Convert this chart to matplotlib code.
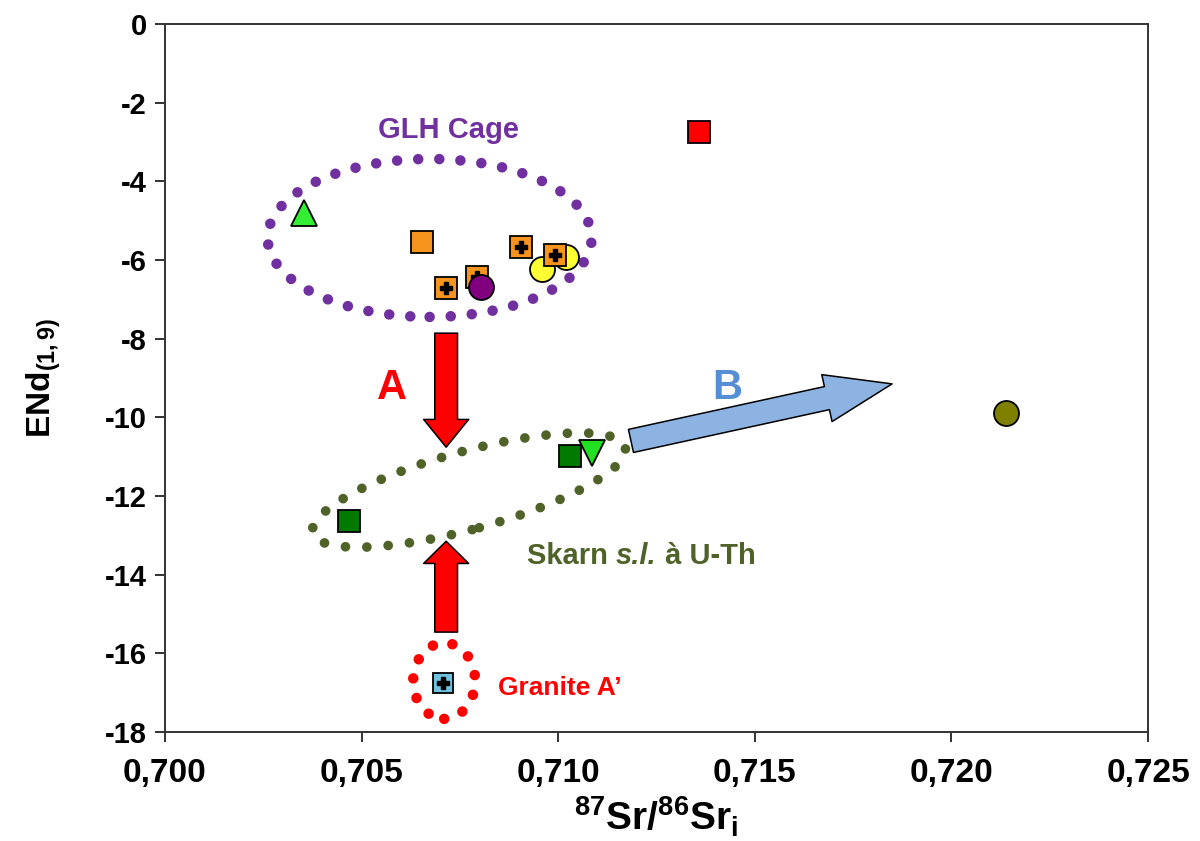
import matplotlib
matplotlib.use("Agg")
from matplotlib import pyplot as plt
from matplotlib.patches import Ellipse
import matplotlib.transforms as mtransforms

plt.rcParams['mathtext.default'] = 'regular'

# --- donnees ---
# carres orange (sans croix)
sq_orange_x = [0.70654]
sq_orange_y = [-5.54]
# carres orange avec croix
sqp_orange_x = [0.70905, 0.70992, 0.70793, 0.70715]
sqp_orange_y = [-5.67, -5.87, -6.43, -6.71]
# cercles jaunes
circ_yellow_x = [0.71020, 0.70959]
circ_yellow_y = [-5.92, -6.23]
# cercle violet
circ_purple_x = [0.70804]
circ_purple_y = [-6.69]
# triangle vert clair (haut)
tri_up_x = [0.70354]
tri_up_y = [-4.81]
# carre rouge
sq_red_x = [0.71358]
sq_red_y = [-2.75]
# carres vert fonce
sq_dkgreen_x = [0.71030, 0.70468]
sq_dkgreen_y = [-10.98, -12.64]
# triangle vert (bas)
tri_down_x = [0.71086]
tri_down_y = [-10.91]
# granite A' (carre bleu avec croix)
sqp_cyan_x = [0.70707]
sqp_cyan_y = [-16.76]
# cercle olive
circ_olive_x = [0.72139]
circ_olive_y = [-9.89]

xticks = [0.700, 0.705, 0.710, 0.715, 0.720, 0.725]
xtick_labels = ["0,700", "0,705", "0,710", "0,715", "0,720", "0,725"]
yticks = [0, -2, -4, -6, -8, -10, -12, -14, -16, -18]
ytick_labels = ["0", "-2", "-4", "-6", "-8", "-10", "-12", "-14", "-16", "-18"]

fig = plt.figure(figsize=(12, 8.41), dpi=100)
ax = fig.add_axes([0.1375, 0.1296, 0.8192, 0.8419])
ax.set_xlim(0.700, 0.725)
ax.set_ylim(-18, 0)

for s in ax.spines.values():
    s.set_linewidth(1.4)
    s.set_color("#333333")

ax.set_xticks(xticks)
ax.set_xticklabels(xtick_labels, family="Liberation Sans", weight="bold", fontsize=24)
ax.set_yticks(yticks)
ax.set_yticklabels(ytick_labels, family="Liberation Sans", weight="bold", fontsize=21)
ax.tick_params(length=7, width=1.4, color="#333333", pad=6)
ax.tick_params(axis="x", pad=12)

ax.set_xlabel("$^{87}$Sr/$^{86}$Sr$_{i}$", family="Liberation Sans",
              weight="bold", fontsize=28, labelpad=4)
ax.set_ylabel("ENd$_{(1,9)}$", family="Liberation Sans", weight="bold", fontsize=24, labelpad=30)


def anneau(cx, cy, w, h, angle, color, lw, gap):
    # ellipse pointillee, taille en pouces autour d'un centre en coordonnees donnees
    tr = fig.dpi_scale_trans + mtransforms.ScaledTranslation(cx, cy, ax.transData)
    e = Ellipse((0, 0), w, h, angle=angle, transform=tr, fill=False, ec=color,
                lw=lw, linestyle=(0, (0.001, gap)), capstyle="round", zorder=1)
    ax.add_patch(e)


anneau(0.70673, -5.44, 3.24, 1.58, 0, "#7030A0", 7.6, 2.0)
anneau(0.70773, -11.85, 3.24, 0.78, 15.4, "#4F6228", 7.0, 2.2)
anneau(0.70710, -16.70, 0.62, 0.76, 0, "#FF0000", 7.6, 1.9)


def fleche(x0, y0, x1, y1, fc, hl, hw, tw):
    ax.annotate("", xy=(x1, y1), xytext=(x0, y0),
                arrowprops=dict(arrowstyle="simple,head_length=%g,head_width=%g,tail_width=%g" % (hl, hw, tw),
                                fc=fc, ec="black", lw=1.1, shrinkA=0, shrinkB=0, mutation_scale=1),
                zorder=2)


fleche(0.70715, -7.86, 0.70715, -10.76, "#FF0000", 20, 32.4, 16.4)
fleche(0.70715, -15.46, 0.70715, -13.15, "#FF0000", 16, 32.4, 16.4)
fleche(0.71185, -10.60, 0.71849, -9.15, "#8DB3E2", 48, 34.6, 17)

mk = dict(linestyle="none", markeredgecolor="black", markeredgewidth=1.3, zorder=3)
ax.plot(circ_yellow_x, circ_yellow_y, "o", ms=18, markerfacecolor="#FFFF33", **mk)
ax.plot(sq_orange_x, sq_orange_y, "s", ms=16, markerfacecolor="#F7941D", **mk)
ax.plot(sqp_orange_x, sqp_orange_y, "s", ms=16, markerfacecolor="#F7941D", **mk)
ax.plot(sqp_orange_x, sqp_orange_y, "P", ms=9, color="black", linestyle="none", zorder=3)
ax.plot(circ_purple_x, circ_purple_y, "o", ms=18, markerfacecolor="#800080", **mk)
ax.plot(tri_up_x, tri_up_y, "^", ms=19, markerfacecolor="#33EE33", **mk)
ax.plot(sq_red_x, sq_red_y, "s", ms=16, markerfacecolor="#FF0000", **mk)
ax.plot(sq_dkgreen_x, sq_dkgreen_y, "s", ms=16, markerfacecolor="#007A00", **mk)
ax.plot(tri_down_x, tri_down_y, "v", ms=19, markerfacecolor="#22E022", **mk)
ax.plot(sqp_cyan_x, sqp_cyan_y, "s", ms=14, markerfacecolor="#6FC3DF", **mk)
ax.plot(sqp_cyan_x, sqp_cyan_y, "P", ms=8, color="black", linestyle="none", zorder=3)
ax.plot(circ_olive_x, circ_olive_y, "o", ms=18, markerfacecolor="#808000", **mk)

# textes
txt = dict(family="Liberation Sans", weight="bold")
ax.text(0.70722, -2.70, "GLH Cage", color="#7030A0", fontsize=21, ha="center", va="center", **txt)
ax.text(0.70577, -9.25, "A", color="#FF0000", fontsize=30, ha="center", va="center", **txt)
ax.text(0.71429, -9.25, "B", color="#558ED5", fontsize=30, ha="center", va="center", **txt)
ax.text(0.70847, -16.88, "Granite A\u2019", color="#FF0000", fontsize=19, ha="left", va="center", **txt)

t1 = ax.text(0.70921, -13.53, "Skarn ", color="#4F6228", fontsize=21, ha="left", va="center", **txt)
t2 = ax.annotate("s.l.", xy=(1, 0), xycoords=t1, va="bottom", ha="left", color="#4F6228",
                 fontsize=21, style="italic", **txt)
ax.annotate(" \u00e0 U-Th", xy=(1, 0), xycoords=t2, va="bottom", ha="left", color="#4F6228",
            fontsize=21, **txt)

plt.savefig("out.png", dpi=100)
